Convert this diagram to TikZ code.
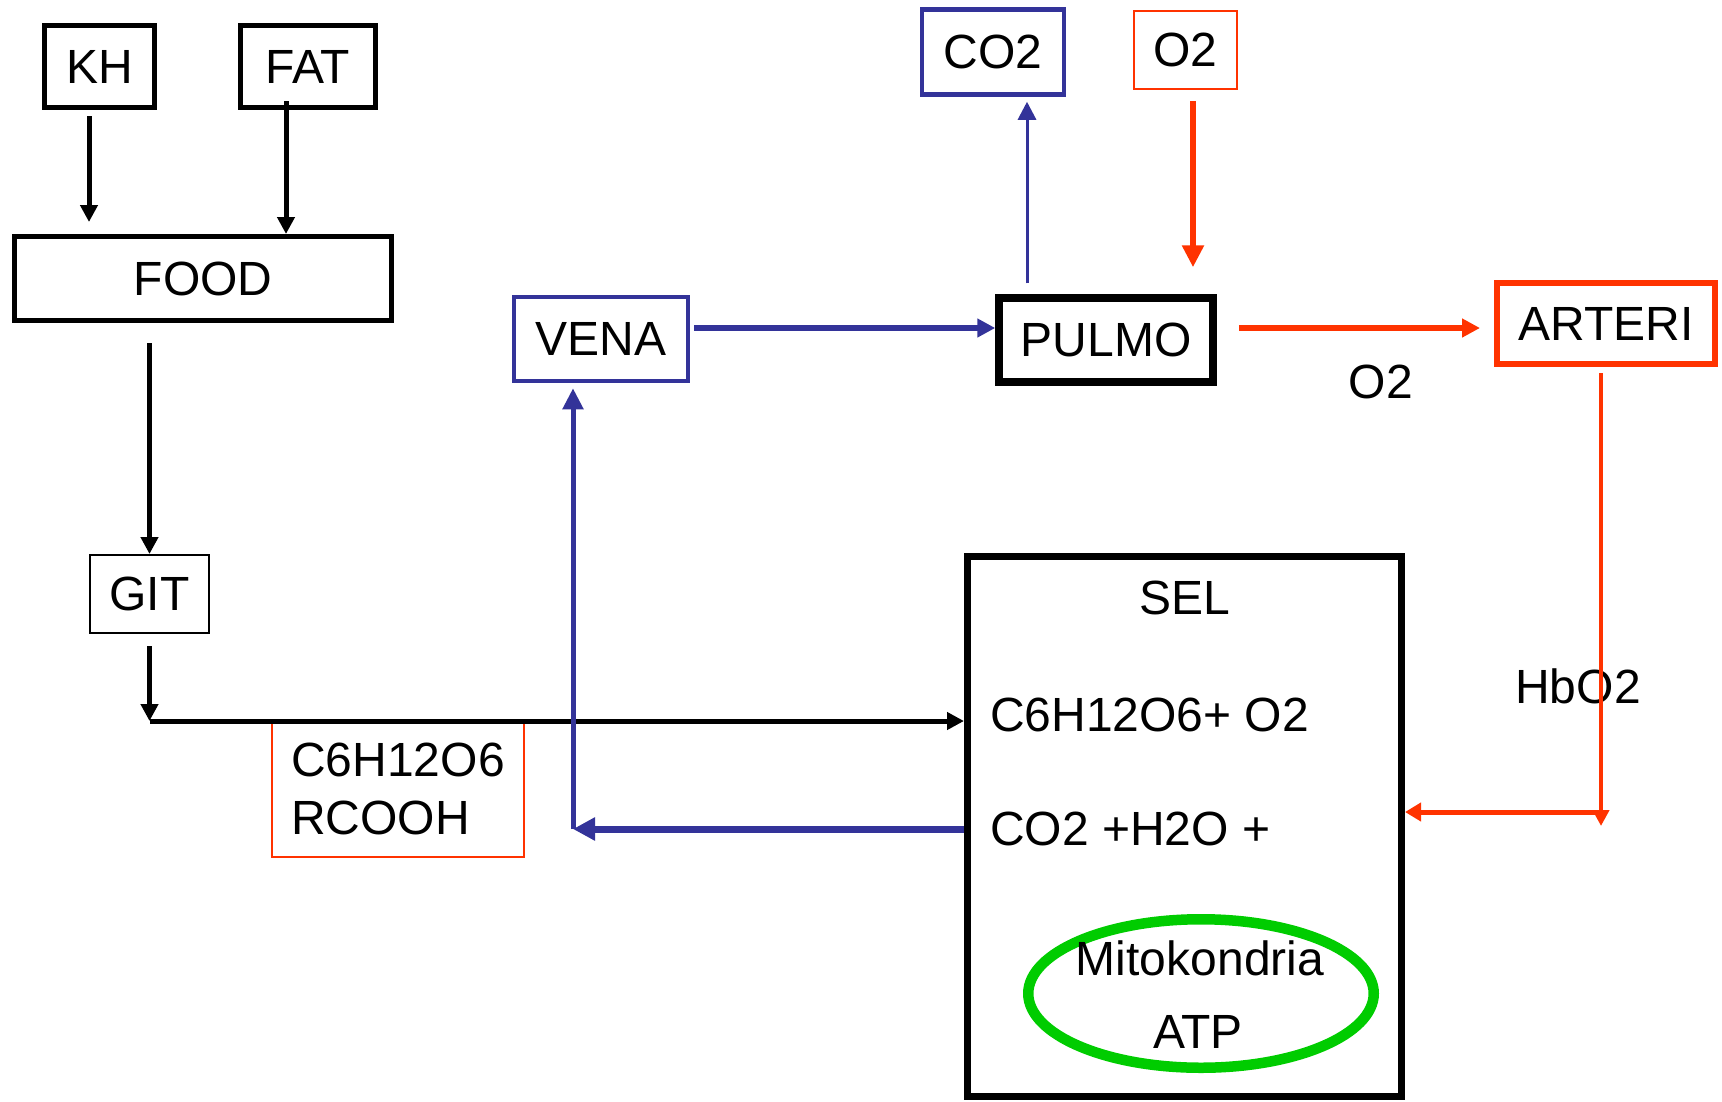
\documentclass[tikz,border=0pt]{standalone}
\usepackage{fontspec}
\setmainfont{Liberation Sans}
\usepackage{xcolor}
\definecolor{VenousBlue}{HTML}{333399}
\definecolor{ArterialRed}{HTML}{FF3300}
\definecolor{MitoGreen}{HTML}{00CC00}
\usepackage{tikz}
\usetikzlibrary{arrows.meta, positioning, shapes.geometric}

\begin{document}
\begin{tikzpicture}[x=1pt, y=-1pt,
    every node/.style={inner sep=0pt, font=\fontsize{48}{58}\selectfont},
    box/.style={draw=black, line width=5pt},
    thinbox/.style={draw=#1, line width=2pt},
    blkarrow/.style={-{Triangle[length=17pt,width=17pt]}, line width=5pt},
    bluearrow/.style={VenousBlue, -{Triangle[length=18pt,width=18pt]}, line width=#1},
    bluearrow/.default=6pt,
    redarrow/.style={ArterialRed, -{Triangle[length=18pt,width=18pt]}, line width=#1},
    redarrow/.default=6pt]
  \useasboundingbox (0,0) rectangle (1722,1101);

  % food intake
  \node[box, minimum width=110pt, minimum height=82pt] (kh) at (99.5,66.5) {KH};
  \node[box, minimum width=135pt, minimum height=82pt] (fat) at (308,66.5) {FAT};
  \node[box, minimum width=377pt, minimum height=84pt] (food) at (203,278.5) {FOOD};
  \node[thinbox=black, minimum width=119pt, minimum height=78pt] (git) at (149.5,594) {GIT};
  \node[thinbox=ArterialRed, minimum width=252pt, minimum height=136pt, align=left]
    (absorb) at (398,789) {C6H12O6\\RCOOH};

  % circulation
  \node[draw=VenousBlue, line width=4.5pt, minimum width=174pt, minimum height=84pt] (vena) at (601,339) {VENA};
  \node[draw=black, line width=7.5pt, minimum width=214pt, minimum height=84pt] (pulmo) at (1106,340) {PULMO};
  \node[draw=VenousBlue, line width=4.5pt, minimum width=142pt, minimum height=85pt] (co2) at (993,52) {CO2};
  \node[thinbox=ArterialRed, minimum width=103pt, minimum height=78pt] (o2in) at (1185.5,50) {O2};
  \node[draw=ArterialRed, line width=6pt, minimum width=218pt, minimum height=81pt] (arteri) at (1606,323.5) {ARTERI};
  \node (o2label) at (1381,382) {O2};
  \node (hbo2) at (1578,686) {HbO2};

  % cell
  \node[draw=black, line width=7pt, minimum width=434pt, minimum height=540pt] (sel) at (1184.5,826.5) {};
  \node (seltitle) at (1185,598) {SEL};
  \node[anchor=west] (reactant) at (990,715) {C6H12O6+ O2};
  \node[anchor=west] (product) at (990,829) {CO2 +H2O +};
  \node[ellipse, draw=MitoGreen, line width=10.5pt, minimum width=345.5pt, minimum height=148.5pt] (mito) at (1201,993.5) {};
  \node (mitoname) at (1200,958) {Mitokondria};
  \node (atp) at (1198,1032) {ATP};

  % digestion
  \draw[blkarrow, shorten <=6pt, shorten >=12pt] ([xshift=-10.5pt]kh.south) -- ([xshift=-114pt]food.north);
  \draw[blkarrow, shorten <=-9pt] ([xshift=-22pt]fat.south) -- ([xshift=83pt]food.north);
  \draw[blkarrow, shorten <=20pt] ([xshift=-53.5pt]food.south) -- (git.north);
  \coordinate (gitturn) at (149.5,721);
  \draw[blkarrow, shorten <=12pt] (git.south) -- (gitturn);
  \draw[blkarrow] (gitturn) -- (gitturn -| sel.west);

  % venous return
  \coordinate (venaturn) at (573,829);
  \draw[bluearrow=7pt, -{Triangle[length=22pt,width=22pt]}] (venaturn -| sel.west) -- (venaturn);
  \draw[bluearrow=5pt, -{Triangle[length=21pt,width=20pt]}, shorten >=5pt] (venaturn) -- (venaturn |- vena.south);
  \draw[bluearrow, shorten <=4pt] ([yshift=11pt]vena.east) -- ([yshift=12pt]pulmo.west);
  \draw[bluearrow=3pt, shorten <=11pt, shorten >=5pt] ([xshift=-79pt]pulmo.north) -- ([xshift=34pt]co2.south);

  % oxygen
  \draw[redarrow, -{Triangle[length=22pt,width=21pt]}, shorten <=11pt, shorten >=27pt] ([xshift=7.5pt]o2in.south) -- ([xshift=87pt]pulmo.north);
  \draw[redarrow, shorten <=22pt, shorten >=14pt] ([yshift=12pt]pulmo.east) -- ([yshift=-4.5pt]arteri.west);
  \coordinate (hbturn) at (1601,812);
  \draw[redarrow=4.5pt, -{Triangle[length=16pt,width=16pt]}, shorten <=6pt] ([xshift=-5pt]arteri.south) -- ([yshift=-14pt]hbturn);
  \draw[redarrow=5pt, -{Triangle[length=16pt,width=18pt]}] (hbturn) -- (hbturn -| sel.east);
\end{tikzpicture}
\end{document}
